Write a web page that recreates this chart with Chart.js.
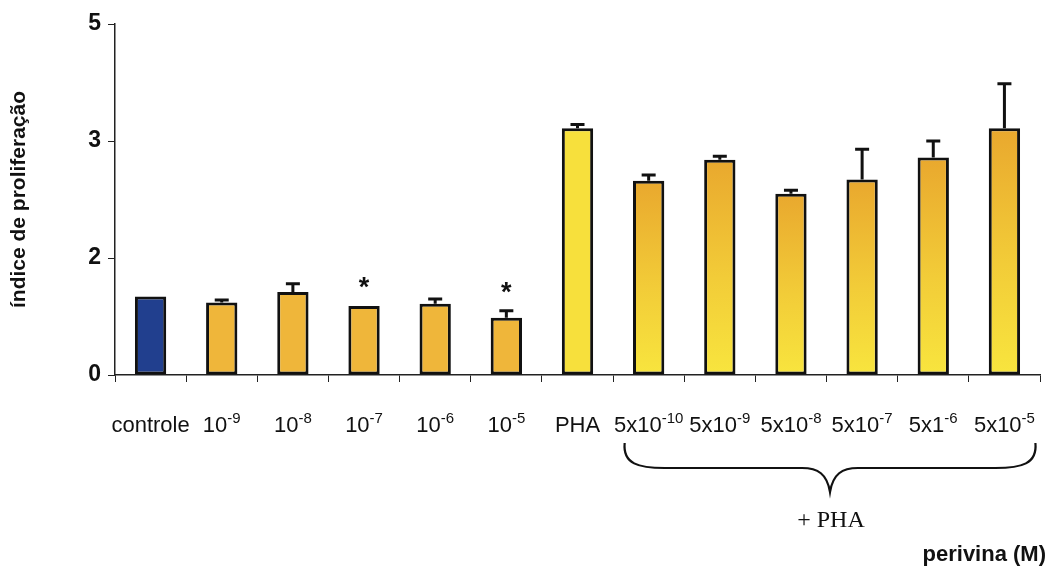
<!DOCTYPE html>
<html>
<head>
<meta charset="utf-8">
<title>índice de proliferação</title>
<script src="https://cdn.jsdelivr.net/npm/chart.js@4.4.1/dist/chart.umd.min.js"></script>
<style>
  html, body { margin: 0; padding: 0; background: #fff; }
  #wrap { width: 1052px; height: 571px; }
</style>
</head>
<body>
<div id="wrap"><canvas id="chart" width="1052" height="571"></canvas></div>
<script>
// categories (base text + superscript exponent)
const labelBase = ['controle', '10', '10', '10', '10', '10', 'PHA', '5x10', '5x10', '5x10', '5x10', '5x1', '5x10']
const labelExp = ['', '-9', '-8', '-7', '-6', '-5', '', '-10', '-9', '-8', '-7', '-6', '-5']

// values (axis units, ticks 0..3)
const values = [0.67, 0.62, 0.71, 0.59, 0.61, 0.49, 2.11, 1.66, 1.84, 1.55, 1.67, 1.86, 2.11]
const errors = [0, 0.02, 0.07, 0, 0.04, 0.06, 0.03, 0.05, 0.03, 0.03, 0.26, 0.14, 0.38]
const marks = ['', '', '', '*', '', '*', '', '', '', '', '', '', '']

// printed y tick labels
const yTickLabels = ['0', '2', '3', '5']

const BLUE = '#213f8e'
const ORANGE = '#efb63a'
const PHA_YELLOW = '#f7e03c'

function barColor (c) {
  const i = c.dataIndex
  if (i === 0) return BLUE
  if (i < 6) return ORANGE
  if (i === 6) return PHA_YELLOW
  const chart = c.chart
  const y = chart.scales.y
  if (!y || !chart.chartArea) return ORANGE
  const top = y.getPixelForValue(values[i])
  const bottom = y.getPixelForValue(0)
  const g = chart.ctx.createLinearGradient(0, top, 0, bottom)
  g.addColorStop(0, '#e9a82e')
  g.addColorStop(0.55, '#f2cc38')
  g.addColorStop(1, '#f8e53e')
  return g
}

const extras = {
  id: 'extras',
  afterDatasetsDraw (chart) {
    const { ctx, scales: { x, y } } = chart
    const meta = chart.getDatasetMeta(0)
    ctx.save()
    ctx.strokeStyle = '#111'
    ctx.lineWidth = 3
    meta.data.forEach((bar, i) => {
      if (!errors[i]) return
      const y0 = y.getPixelForValue(values[i])
      const y1 = y.getPixelForValue(values[i] + errors[i])
      ctx.beginPath()
      ctx.moveTo(bar.x, y0)
      ctx.lineTo(bar.x, y1)
      ctx.moveTo(bar.x - 7, y1)
      ctx.lineTo(bar.x + 7, y1)
      ctx.stroke()
    })
    // significance marks
    ctx.fillStyle = '#111'
    ctx.font = 'bold 27px "Liberation Sans", Arial, sans-serif'
    ctx.textAlign = 'center'
    ctx.textBaseline = 'alphabetic'
    marks.forEach((m, i) => {
      if (!m) return
      const yy = y.getPixelForValue(values[i] + errors[i])
      ctx.fillText(m, x.getPixelForValue(i), yy - 10)
    })
    ctx.restore()
  },
  afterDraw (chart) {
    const { ctx, scales: { x } } = chart
    const baseFont = '22px "Liberation Sans", Arial, sans-serif'
    const supFont = '15px "Liberation Sans", Arial, sans-serif'
    const baseY = 432
    ctx.save()
    ctx.fillStyle = '#111'
    ctx.textBaseline = 'alphabetic'
    ctx.textAlign = 'left'
    labelBase.forEach((b, i) => {
      ctx.font = baseFont
      const wb = ctx.measureText(b).width
      ctx.font = supFont
      const we = labelExp[i] ? ctx.measureText(labelExp[i]).width : 0
      const cx = x.getPixelForValue(i)
      const left = cx - (wb + we) / 2
      ctx.font = baseFont
      ctx.fillText(b, left, baseY)
      if (labelExp[i]) {
        ctx.font = supFont
        ctx.fillText(labelExp[i], left + wb, baseY - 9)
      }
    })

    // brace under the PHA + perivina group
    const xl = x.getPixelForValue(7) - 24
    const xr = x.getPixelForValue(12) + 31
    const xm = 830
    const yt = 443
    const ym = 468
    const yb = 492
    ctx.strokeStyle = '#111'
    ctx.lineWidth = 2.2
    ctx.beginPath()
    ctx.moveTo(xl, yt)
    ctx.bezierCurveTo(xl - 2, ym - 4, xl + 14, ym, xl + 40, ym)
    ctx.lineTo(xm - 28, ym)
    ctx.bezierCurveTo(xm - 12, ym, xm - 3, ym + 6, xm, yb)
    ctx.bezierCurveTo(xm + 3, ym + 6, xm + 12, ym, xm + 28, ym)
    ctx.lineTo(xr - 40, ym)
    ctx.bezierCurveTo(xr - 14, ym, xr + 2, ym - 4, xr, yt)
    ctx.stroke()

    ctx.textAlign = 'center'
    ctx.font = '24px "Liberation Serif", "Times New Roman", serif'
    ctx.fillText('+ PHA', xm + 1, 527)

    ctx.textAlign = 'right'
    ctx.font = 'bold 22px "Liberation Sans", Arial, sans-serif'
    ctx.fillText('perivina (M)', 1046, 561)
    ctx.restore()
  }
}

new Chart(document.getElementById('chart'), {
  type: 'bar',
  data: {
    labels: labelBase.map((b, i) => b + labelExp[i]),
    datasets: [{
      data: values,
      backgroundColor: barColor,
      borderColor: '#111',
      borderWidth: 3,
      borderSkipped: false,
      barPercentage: 0.44,
      categoryPercentage: 1
    }]
  },
  options: {
    responsive: false,
    animation: false,
    events: [],
    layout: { padding: { top: 24, right: 12, left: 0, bottom: 0 } },
    plugins: { legend: { display: false }, tooltip: { enabled: false } },
    scales: {
      x: {
        ticks: { display: false },
        grid: { drawOnChartArea: false, color: '#222', tickLength: 7, offset: true },
        border: { color: '#222', width: 1.5 },
        afterFit: s => { s.height = 196 }
      },
      y: {
        min: 0,
        max: 3,
        ticks: {
          stepSize: 1,
          color: '#111',
          padding: 7,
          font: { family: '"Liberation Sans", Arial, sans-serif', size: 23, weight: 'bold' },
          callback: (v, i) => yTickLabels[i]
        },
        grid: { drawOnChartArea: false, color: '#222', tickLength: 7 },
        border: { color: '#222', width: 1.5 },
        title: {
          display: true,
          text: 'índice de proliferação',
          color: '#111',
          padding: { top: 7 },
          font: { family: '"Liberation Sans", Arial, sans-serif', size: 21, weight: 'bold' }
        },
        afterFit: s => { s.width = 115 }
      }
    }
  },
  plugins: [extras]
})
</script>
</body>
</html>
